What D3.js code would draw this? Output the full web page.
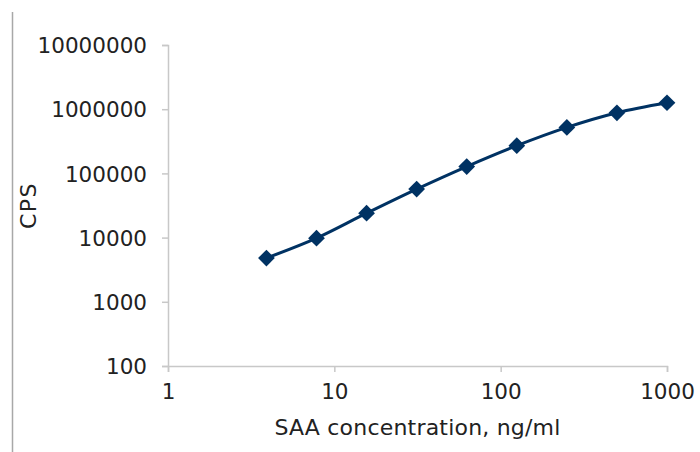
<!DOCTYPE html>
<html>
<head>
<meta charset="utf-8">
<script src="https://cdn.jsdelivr.net/npm/d3@7"></script>
<style>
  body { margin: 0; background: #fff; }
  svg { display: block; }
  .axis path, .axis line { stroke: #c8c8c8; stroke-width: 1.5; }
  .axis text { font-family: "DejaVu Sans", sans-serif; font-size: 21.5px; fill: #222; }
</style>
</head>
<body>
<svg id="chart" width="700" height="452"></svg>
<script>
// concentration (ng/ml) and counts per second
var conc = [3.90625, 7.8125, 15.625, 31.25, 62.5, 125, 250, 500, 1000];
var cps = [4800, 9800, 24000, 57000, 128000, 270000, 520000, 880000, 1260000];
var xTicks = [1, 10, 100, 1000];
var yTicks = [100, 1000, 10000, 100000, 1000000, 10000000];

var svg = d3.select("svg#chart"),
	margin = { top: 45, right: 33, bottom: 86, left: 168 },
	width = svg.attr("width") - margin.left - margin.right,
	height = svg.attr("height") - margin.top - margin.bottom,
	g = svg.append("g").attr("transform", "translate(" + margin.left + "," + margin.top + ")");

var navy = "#003263";

// frame line on the left
svg.append("line")
	.attr("x1", 12.5).attr("x2", 12.5)
	.attr("y1", 12).attr("y2", 452)
	.attr("stroke", "#a8a8a8")
	.attr("stroke-width", 1.5);

var x = d3.scaleLog().domain([1, 1000]).range([0, width]);
var y = d3.scaleLog().domain([100, 10000000]).range([height, 0]);

// x axis
g.append("g")
	.attr("class", "axis")
	.attr("transform", "translate(0," + height + ")")
	.call(d3.axisBottom(x).tickValues(xTicks).tickFormat(d3.format("d")).tickSizeOuter(0).tickSize(6).tickPadding(12));

// y axis
var yAxis = g.append("g")
	.attr("class", "axis")
	.call(d3.axisLeft(y).tickValues(yTicks).tickFormat(d3.format("d")).tickSizeOuter(0).tickSize(6).tickPadding(15));
yAxis.selectAll("text").attr("dy", "0.36em");

// axis titles
svg.append("text")
	.attr("x", margin.left + width / 2)
	.attr("y", 435)
	.attr("text-anchor", "middle")
	.attr("font-family", "DejaVu Sans, sans-serif")
	.attr("font-size", "22px")
	.attr("letter-spacing", "0.2px")
	.attr("fill", "#222")
	.text("SAA concentration, ng/ml");

svg.append("text")
	.attr("transform", "translate(36," + (margin.top + height / 2) + ") rotate(-90)")
	.attr("text-anchor", "middle")
	.attr("font-family", "DejaVu Sans, sans-serif")
	.attr("font-size", "22px")
	.attr("letter-spacing", "1.5px")
	.attr("fill", "#222")
	.text("CPS");

var data = conc.map(function (c, i) { return { c: c, v: cps[i] }; });

var valueline = d3.line()
	.x(function (d) { return x(d.c); })
	.y(function (d) { return y(d.v); })
	.curve(d3.curveMonotoneX);

g.append("path")
	.datum(data)
	.attr("fill", "none")
	.attr("stroke", navy)
	.attr("stroke-width", 3)
	.attr("d", valueline);

// diamond markers
g.selectAll(".marker")
	.data(data)
	.enter().append("path")
	.attr("class", "marker")
	.attr("d", d3.symbol().type(d3.symbolSquare).size(140))
	.attr("transform", function (d) { return "translate(" + x(d.c) + "," + y(d.v) + ") rotate(45)"; })
	.attr("fill", navy);
</script>
</body>
</html>
